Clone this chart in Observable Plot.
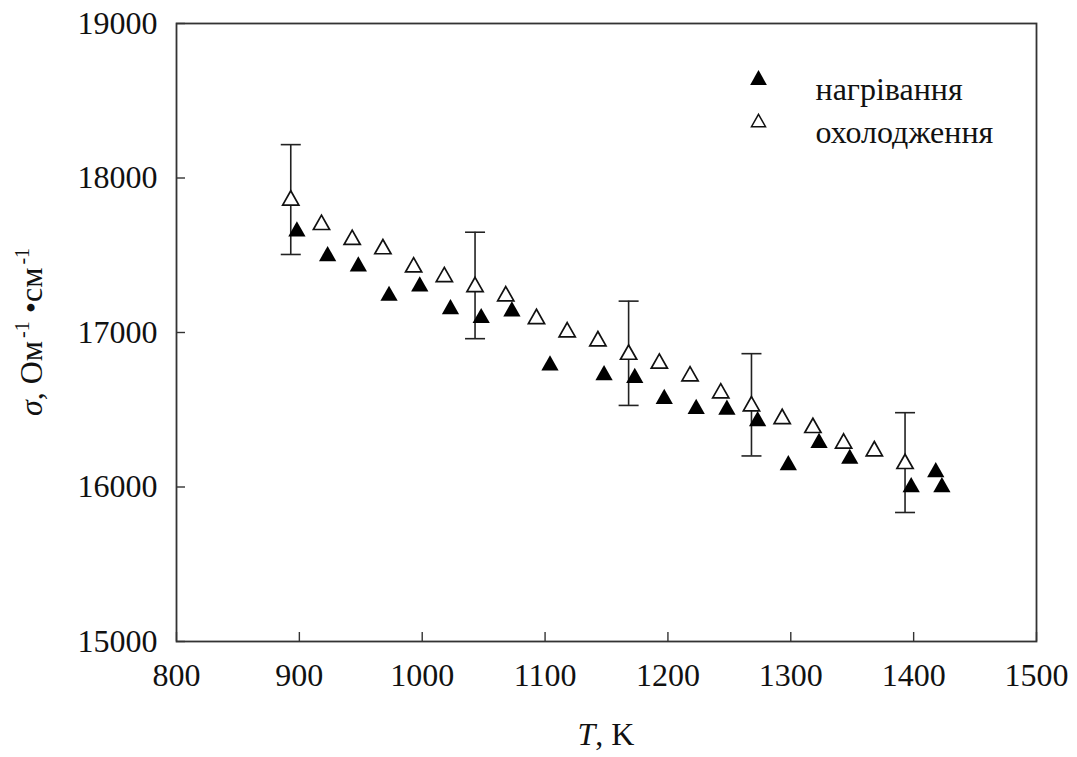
<!DOCTYPE html>
<html>
<head>
<meta charset="utf-8">
<script src="https://cdn.jsdelivr.net/npm/d3@7"></script>
<script src="https://cdn.jsdelivr.net/npm/@observablehq/plot@0.6"></script>
<style>
  html, body { margin: 0; padding: 0; background: #fff; }
  #chart { width: 1077px; height: 757px; }
</style>
</head>
<body>
<div id="chart"></div>
<script>
// ---- data ----
const heatingT     = [898, 923, 948, 973, 998, 1023, 1048, 1073, 1104, 1148, 1173, 1197, 1223, 1248, 1273, 1298, 1323, 1348, 1398, 1418, 1423];
const heatingSigma = [17671, 17511, 17444, 17254, 17315, 17168, 17110, 17153, 16804, 16740, 16722, 16587, 16522, 16517, 16442, 16158, 16302, 16199, 16016, 16113, 16016];

const coolingT     = [893, 918, 943, 968, 993, 1018, 1043, 1068, 1093, 1118, 1143, 1168, 1193, 1218, 1243, 1268, 1293, 1318, 1343, 1368, 1393];
const coolingSigma = [17871, 17713, 17616, 17556, 17438, 17375, 17311, 17251, 17104, 17018, 16960, 16873, 16815, 16733, 16623, 16539, 16457, 16399, 16298, 16248, 16166];

const errT    = [893, 1043, 1168, 1268, 1393];
const errLow  = [17505, 16960, 16528, 16201, 15835];
const errHigh = [18216, 17649, 17203, 16863, 16481];

const xTicks = [800, 900, 1000, 1100, 1200, 1300, 1400, 1500];
const yTicks = [15000, 16000, 17000, 18000, 19000];

const seriesNames = ["нагрівання", "охолодження"];
const xLabel = ["T", ", K"];
const yLabel = ["σ", ", Ом", "-1", " •см", "-1"];

// ---- tables built from the arrays ----
const heating = heatingT.map((t, i) => ({T: t, s: heatingSigma[i]}));
const cooling = coolingT.map((t, i) => ({T: t, s: coolingSigma[i]}));
const errs = errT.map((t, i) => ({T: t, lo: errLow[i], hi: errHigh[i]}));
const legend = seriesNames.map((name, i) => ({name, i}));

// ---- custom symbols ----
const tri = {draw(ctx, size) {
  const r = Math.sqrt(size / Math.PI);
  const w = 1.35 * r, h = 1.19 * r;
  ctx.moveTo(0, -h); ctx.lineTo(w, h); ctx.lineTo(-w, h); ctx.closePath();
}};
const cap = {draw(ctx) { ctx.moveTo(-10, 0); ctx.lineTo(10, 0); }};

const FONT = '"Liberation Serif", "Times New Roman", Times, serif';
const W = 1077, H = 757;
const ML = 176, MR = 41, MT = 23, MB = 116;
const TICK = 9;
const frameW = W - ML - MR, frameH = H - MT - MB;

const plot = Plot.plot({
  width: W,
  height: H,
  marginLeft: ML,
  marginRight: MR,
  marginTop: MT,
  marginBottom: MB,
  style: {fontFamily: FONT, background: "#fff", color: "#111", overflow: "visible"},
  x: {domain: [800, 1500]},
  y: {domain: [15000, 19000]},
  marks: [
    Plot.axisX({ticks: xTicks, tickSize: 0, tickPadding: 22, tickFormat: d3.format("d"), fontSize: 32, label: null}),
    Plot.axisY({ticks: yTicks, tickSize: 0, tickPadding: 19, tickFormat: d3.format("d"), fontSize: 32, label: null}),
    // inward tick marks
    Plot.tickX(xTicks, {x: d => d, insetTop: frameH - TICK, stroke: "#333", strokeWidth: 1.4}),
    Plot.tickY(yTicks, {y: d => d, insetRight: frameW - TICK, stroke: "#333", strokeWidth: 1.4}),
    Plot.frame({stroke: "#333", strokeWidth: 1.8}),
    // error bars
    Plot.ruleX(errs, {x: "T", y1: "lo", y2: "hi", stroke: "#222", strokeWidth: 1.6}),
    Plot.dot(errs, {x: "T", y: "lo", symbol: cap, fill: "none", stroke: "#222", strokeWidth: 1.6}),
    Plot.dot(errs, {x: "T", y: "hi", symbol: cap, fill: "none", stroke: "#222", strokeWidth: 1.6}),
    // cooling (open)
    Plot.dot(cooling, {x: "T", y: "s", symbol: tri, r: 6, fill: "#fff", stroke: "#111", strokeWidth: 1.7}),
    // heating (filled)
    Plot.dot(heating, {x: "T", y: "s", symbol: tri, r: 6.4, fill: "#000", stroke: "none"}),
    // legend
    Plot.dot(legend, {frameAnchor: "top-left", dx: 582, dy: 54, symbol: tri, r: 6.2, fill: "#000", stroke: "none", filter: d => d.i === 0}),
    Plot.dot(legend, {frameAnchor: "top-left", dx: 582, dy: 97, symbol: tri, r: 5.2, fill: "#fff", stroke: "#111", strokeWidth: 1.5, filter: d => d.i === 1}),
    Plot.text(legend, {frameAnchor: "top-left", dx: 639, dy: 54, text: "name", textAnchor: "start", fontSize: 32, fill: "#111", filter: d => d.i === 0}),
    Plot.text(legend, {frameAnchor: "top-left", dx: 639, dy: 97, text: "name", textAnchor: "start", fontSize: 32, fill: "#111", filter: d => d.i === 1})
  ]
});

document.getElementById("chart").appendChild(plot);

// axis titles with italic letters and superscripts
const svg = d3.select(plot);
const cx = ML + frameW / 2;
const cy = MT + frameH / 2;
const xt = svg.append("text")
  .attr("x", cx).attr("y", 745)
  .attr("text-anchor", "middle")
  .attr("font-family", FONT).attr("font-size", 32).attr("fill", "#111");
xt.append("tspan").attr("font-style", "italic").text(xLabel[0]);
xt.append("tspan").text(xLabel[1]);

const yt = svg.append("text")
  .attr("transform", `translate(42,${cy}) rotate(-90)`)
  .attr("text-anchor", "middle")
  .attr("font-family", FONT).attr("font-size", 32).attr("fill", "#111");
yt.append("tspan").attr("font-style", "italic").text(yLabel[0]);
yt.append("tspan").text(yLabel[1]);
yt.append("tspan").attr("dy", -13).attr("font-size", 20).attr("dx", 3).text(yLabel[2]);
yt.append("tspan").attr("dy", 13).text(yLabel[3]);
yt.append("tspan").attr("dy", -13).attr("font-size", 20).attr("dx", 3).text(yLabel[4]);
</script>
</body>
</html>
